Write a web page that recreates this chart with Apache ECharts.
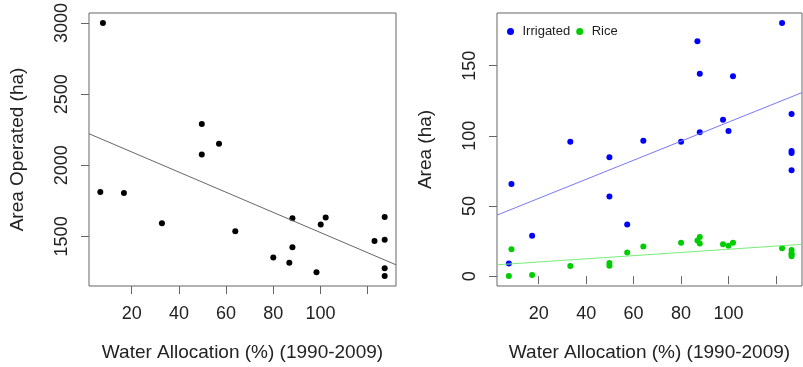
<!DOCTYPE html>
<html>
<head>
<meta charset="utf-8">
<script src="https://cdn.jsdelivr.net/npm/echarts@6/dist/echarts.min.js"></script>
<style>
  html, body { margin: 0; padding: 0; background: #fff; }
  #main { width: 803px; height: 367px; }
</style>
</head>
<body>
<div id="main"></div>
<script>
// left panel: area operated vs water allocation
var allocLeft = [7.8, 6.7, 16.7, 32.8, 49.7, 49.7, 57, 63.9, 80, 86.8, 88.1, 88.1, 98.3, 100.1, 102.2, 122.9, 127.2, 127.2, 127.2, 127.2];
var areaOperated = [3000, 1812, 1805, 1592, 2291, 2076, 2152, 1536, 1352, 1314, 1423, 1627, 1247, 1583, 1632, 1467, 1476, 1636, 1275, 1222];
var fitLeftX = [1.9, 132];
var fitLeftY = [2222, 1300];

// right panel: irrigated and rice area
var allocRight = [8.5, 7.4, 17.2, 33.3, 49.8, 49.8, 57.3, 64.1, 80, 86.9, 87.9, 87.9, 97.7, 100, 101.9, 122.6, 126.6, 126.6, 126.6, 126.6];
var irrigated = [65.7, 9.1, 28.8, 95.8, 84.7, 56.8, 36.8, 96.5, 95.8, 167.4, 144.3, 102.6, 111.5, 103.5, 142.4, 180.3, 115.5, 89.2, 87.8, 75.5];
var rice = [19.2, 0.2, 0.9, 7.2, 9.3, 7.5, 16.9, 21.1, 23.9, 25.5, 27.9, 23.2, 22.7, 21.6, 23.9, 19.9, 18.7, 16.3, 14.2, 15.5];
var fitRightX = [2.4, 131];
var fitIrrigatedY = [43.5, 130.8];
var fitRiceY = [8.1, 22.7];

var xTicks = [20, 40, 60, 80, 100, 120];
var xTickLabels = [20, 40, 60, 80, 100];
var yTicksLeft = [1500, 2000, 2500, 3000];
var yTicksRight = [0, 50, 100, 150];

function zip(xs, ys) {
  return xs.map(function (x, i) { return [x, ys[i]]; });
}

var font = 'Liberation Sans';
var boxColor = '#666';

function xAxisFor(idx, min, max) {
  return {
    gridIndex: idx,
    type: 'value',
    min: min,
    max: max,
    name: 'Water Allocation (%) (1990-2009)',
    nameLocation: 'middle',
    nameGap: 57,
    nameTextStyle: { fontFamily: font, fontSize: 19, color: '#222' },
    axisLine: { show: false },
    axisTick: { show: true, length: 8, lineStyle: { color: boxColor }, customValues: xTicks },
    axisLabel: { fontFamily: font, fontSize: 18, color: '#222', margin: 19, customValues: xTickLabels },
    splitLine: { show: false }
  };
}

function yAxisFor(idx, min, max, name, ticks) {
  return {
    gridIndex: idx,
    type: 'value',
    min: min,
    max: max,
    name: name,
    nameLocation: 'middle',
    nameGap: 62,
    nameTextStyle: { fontFamily: font, fontSize: 19, color: '#222' },
    axisLine: { show: false },
    axisTick: { show: true, length: 8, lineStyle: { color: boxColor }, customValues: ticks },
    axisLabel: {
      fontFamily: font, fontSize: 18, color: '#222', margin: 18, rotate: 90,
      customValues: ticks,
      formatter: function (v) { return String(v); }
    },
    splitLine: { show: false }
  };
}

var chart = echarts.init(document.getElementById('main'));
var option = {
  animation: false,
  backgroundColor: '#fff',
  grid: [
    { left: 89, top: 13, width: 307, height: 276, show: true, borderColor: boxColor, borderWidth: 1, backgroundColor: 'transparent' },
    { left: 497, top: 13, width: 305, height: 276, show: true, borderColor: boxColor, borderWidth: 1, backgroundColor: 'transparent' }
  ],
  legend: {
    left: 502,
    top: 20,
    itemWidth: 14,
    itemHeight: 7,
    itemGap: 6,
    icon: 'circle',
    textStyle: { fontFamily: font, fontSize: 13, color: '#222' },
    data: ['Irrigated', 'Rice']
  },
  xAxis: [xAxisFor(0, 1.9, 132), xAxisFor(1, 2.4, 131)],
  yAxis: [
    yAxisFor(0, 1151, 3071, 'Area Operated (ha)', yTicksLeft),
    yAxisFor(1, -7, 187.5, 'Area (ha)', yTicksRight)
  ],
  series: [
    {
      type: 'line',
      xAxisIndex: 0, yAxisIndex: 0,
      data: zip(fitLeftX, fitLeftY),
      symbol: 'none',
      lineStyle: { color: '#666', width: 1 }
    },
    {
      type: 'scatter',
      xAxisIndex: 0, yAxisIndex: 0,
      data: zip(allocLeft, areaOperated),
      symbolSize: 6,
      itemStyle: { color: '#000', opacity: 1 }
    },
    {
      type: 'line',
      xAxisIndex: 1, yAxisIndex: 1,
      data: zip(fitRightX, fitIrrigatedY),
      symbol: 'none',
      lineStyle: { color: '#7777ff', width: 1 }
    },
    {
      type: 'line',
      xAxisIndex: 1, yAxisIndex: 1,
      data: zip(fitRightX, fitRiceY),
      symbol: 'none',
      lineStyle: { color: '#77ee77', width: 1 }
    },
    {
      name: 'Irrigated',
      type: 'scatter',
      xAxisIndex: 1, yAxisIndex: 1,
      data: zip(allocRight, irrigated),
      symbolSize: 6,
      itemStyle: { color: '#0000ff', opacity: 1 }
    },
    {
      name: 'Rice',
      type: 'scatter',
      xAxisIndex: 1, yAxisIndex: 1,
      data: zip(allocRight, rice),
      symbolSize: 6,
      itemStyle: { color: '#00cd00', opacity: 1 }
    }
  ]
};
chart.setOption(option);
</script>
</body>
</html>
